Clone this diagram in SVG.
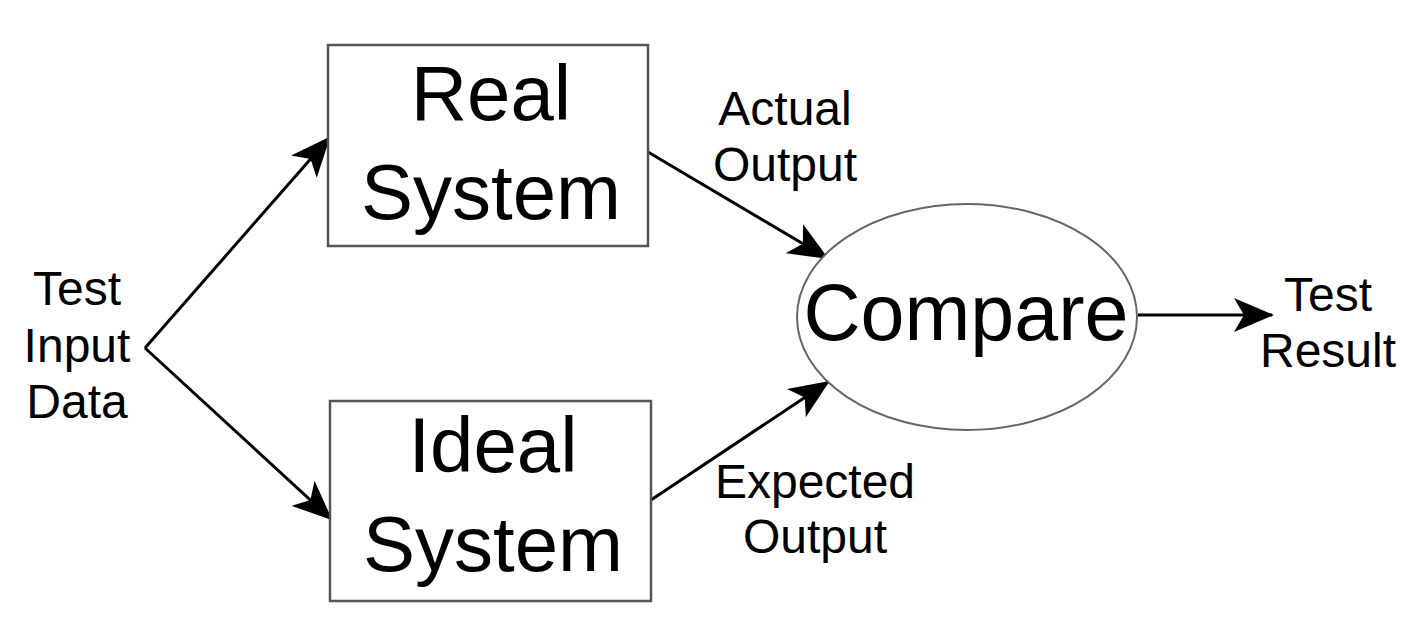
<svg xmlns="http://www.w3.org/2000/svg" width="1405" height="633" viewBox="0 0 1405 633">
<style>
.box{fill:#fff;stroke:#555;stroke-width:2.5}
.ell{fill:#fff;stroke:#666;stroke-width:2}
.big{font-family:"Liberation Sans",Arial,sans-serif;font-size:78px;fill:#000;text-anchor:middle}
.cmp{font-family:"Liberation Sans",Arial,sans-serif;font-size:79px;fill:#000;text-anchor:middle}
.lbl{font-family:"Liberation Sans",Arial,sans-serif;font-size:48px;fill:#000;text-anchor:middle}
.edge{stroke:#000;stroke-width:3;fill:none;marker-end:url(#arr)}
</style>
<defs>
<marker id="arr" viewBox="0 0 40 34" refX="38" refY="17" markerWidth="40" markerHeight="34" markerUnits="userSpaceOnUse" orient="auto">
<path d="M0,0 L40,17 L0,34 L10,17 z" fill="#000"/>
</marker>
</defs>
<rect width="1405" height="633" fill="#fff"/>
<g id="connectors">
<line class="edge" x1="145" y1="348" x2="329" y2="138"/>
<line class="edge" x1="145" y1="348" x2="331" y2="519"/>
<line class="edge" x1="648" y1="152" x2="827" y2="258"/>
<line class="edge" x1="651" y1="500" x2="828" y2="382"/>
<line class="edge" x1="1138" y1="315" x2="1272" y2="315"/>
</g>
<g id="test-input">
<text class="lbl" x="77" y="305">Test</text>
<text class="lbl" x="77" y="362">Input</text>
<text class="lbl" x="77" y="418">Data</text>
</g>
<g id="real-system">
<rect class="box" x="328" y="45" width="320" height="201"/>
<text class="big" x="491" y="120">Real</text>
<text class="big" x="491" y="219">System</text>
</g>
<g id="ideal-system">
<rect class="box" x="330" y="401" width="321" height="200"/>
<text class="big" x="493" y="472">Ideal</text>
<text class="big" x="493" y="571">System</text>
</g>
<g id="compare">
<ellipse class="ell" cx="967" cy="317" rx="170" ry="113"/>
<text class="cmp" x="966" y="340">Compare</text>
</g>
<g id="actual-output">
<text class="lbl" x="785" y="125">Actual</text>
<text class="lbl" x="785" y="181">Output</text>
</g>
<g id="expected-output">
<text class="lbl" x="815" y="498">Expected</text>
<text class="lbl" x="815" y="553">Output</text>
</g>
<g id="test-result">
<text class="lbl" x="1328" y="311">Test</text>
<text class="lbl" x="1328" y="367">Result</text>
</g>
</svg>
